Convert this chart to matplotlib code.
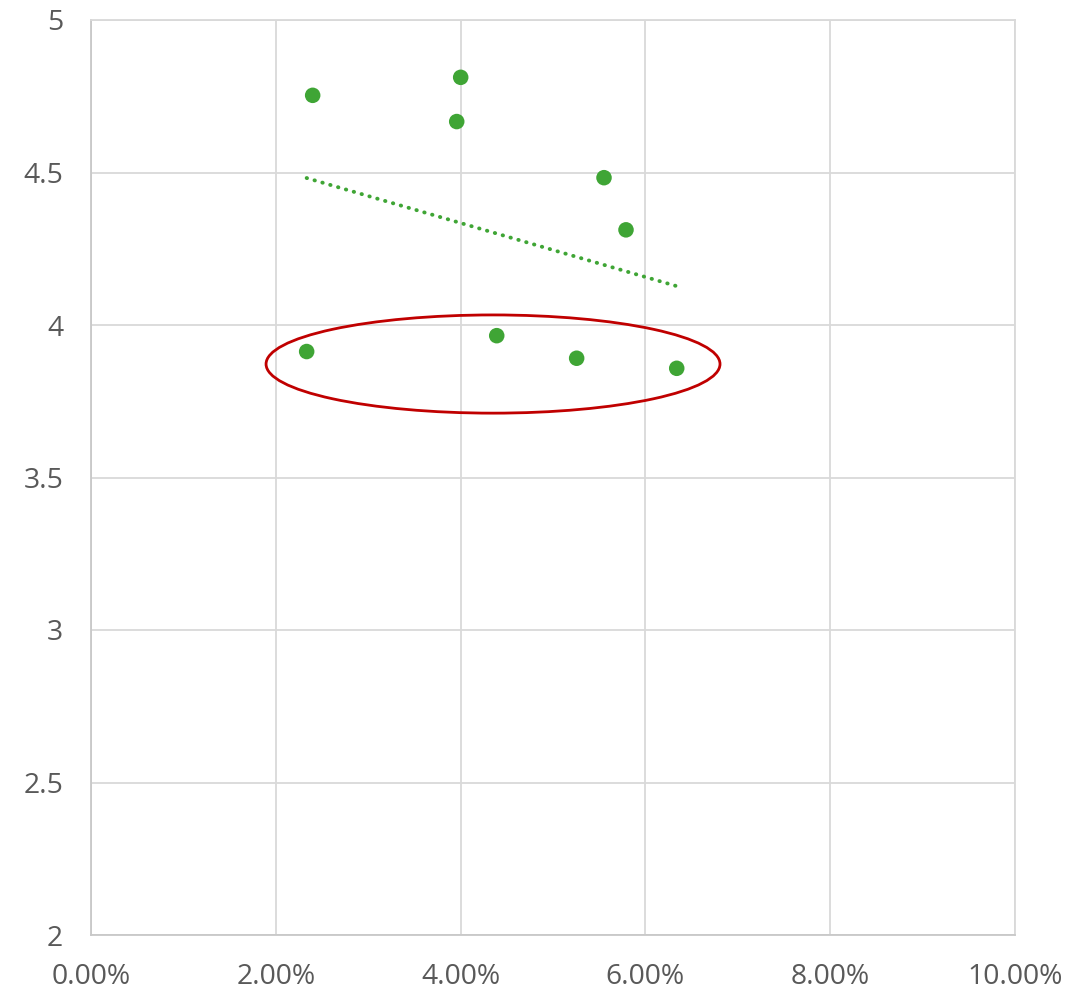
import numpy as np
import matplotlib
matplotlib.use("Agg")
import matplotlib.pyplot as plt
from matplotlib.patches import Ellipse
from matplotlib.ticker import FuncFormatter, MultipleLocator

# data (x as fraction, y as score)
x_vals = [0.02399, 0.04001, 0.03958, 0.05552, 0.05790, 0.02334, 0.04391, 0.05256, 0.06339]
y_vals = [4.753, 4.812, 4.667, 4.483, 4.312, 3.913, 3.965, 3.891, 3.858]

# highlight ellipse (center, width, height) in data units
ell_center = (0.04351, 3.872)
ell_width = 0.04913
ell_height = 0.322

green = "#3FA535"
grid_c = "#D9D9D9"
text_c = "#595959"

plt.rcParams['font.family'] = ['Open Sans', 'DejaVu Sans']

fig = plt.figure(figsize=(10.89, 9.92), dpi=100)
ax = fig.add_axes([91/1089, 1-935/992, (1015-91)/1089, (935-20)/992])

ax.set_xlim(0, 0.10)
ax.set_ylim(2, 5)
ax.xaxis.set_major_locator(MultipleLocator(0.02))
ax.yaxis.set_major_locator(MultipleLocator(0.5))
ax.xaxis.set_major_formatter(FuncFormatter(lambda v, p: f"{v*100:.2f}%"))
ax.yaxis.set_major_formatter(FuncFormatter(lambda v, p: f"{v:g}"))

ax.grid(True, color=grid_c, linewidth=1.3)
ax.set_axisbelow(True)
for s in ax.spines.values():
    s.set_color(grid_c)
    s.set_linewidth(1.3)
ax.spines['left'].set_color('#C8C8C8')
ax.spines['bottom'].set_color('#C8C8C8')
ax.tick_params(length=0, labelsize=20.3, labelcolor=text_c)
ax.tick_params(axis='y', pad=20)
ax.tick_params(axis='x', pad=20)

xs = np.array(x_vals)
ys = np.array(y_vals)
coef = np.polyfit(xs, ys, 1)
tx = np.array([xs.min(), xs.max()])
ax.plot(tx, np.polyval(coef, tx), color=green, linewidth=2.8,
        linestyle=(0, (0.1, 2.0)), dash_capstyle='round', zorder=2)

ax.scatter(xs, ys, s=125, color=green, edgecolors='none', zorder=3)

ax.add_patch(Ellipse(ell_center, ell_width, ell_height, fill=False,
                     edgecolor='#C00000', linewidth=2.0, zorder=4))

fig.savefig("out.png", dpi=100)
